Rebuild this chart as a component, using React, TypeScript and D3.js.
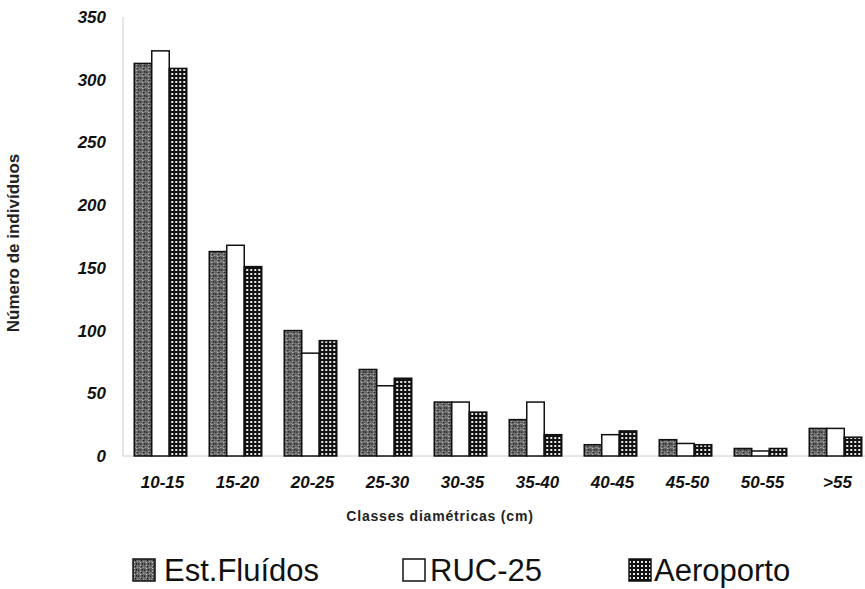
import React from 'react';
import * as d3 from 'd3';

const categories = ['10-15', '15-20', '20-25', '25-30', '30-35', '35-40', '40-45', '45-50', '50-55', '>55'];
const seriesNames = ['Est.Fluídos', 'RUC-25', 'Aeroporto'];
const estFluidos = [313, 163, 100, 69, 43, 29, 9, 13, 6, 22];
const ruc25 = [323, 168, 82, 56, 43, 43, 17, 10, 4, 22];
const aeroporto = [309, 151, 92, 62, 35, 17, 20, 9, 6, 15];
const yTicks = [0, 50, 100, 150, 200, 250, 300, 350];

const W = 865;
const H = 589;
const FONT = '"Liberation Sans", Arial, sans-serif';
const FILLS = ['url(#stipple)', '#ffffff', 'url(#grid)'];

const App: React.FC = () => {
  const seriesValues = [estFluidos, ruc25, aeroporto];

  const x = d3.scaleBand<string>()
    .domain(categories)
    .range([123, 873])
    .paddingInner(0.3)
    .paddingOuter(0.15);

  const xSub = d3.scaleBand<string>()
    .domain(seriesNames)
    .range([0, x.bandwidth()]);

  const y = d3.scaleLinear().domain([0, 350]).range([456, 17]);

  // speckle dots for the stippled pattern
  const speckles: [number, number, string][] = [
    [0, 0, '#222'], [2, 1, '#bbb'], [4, 0, '#333'], [1, 3, '#999'], [3, 2, '#111'],
    [5, 3, '#aaa'], [0, 5, '#444'], [2, 4, '#ccc'], [4, 5, '#222'], [5, 1, '#888'],
  ];

  const legend = [
    { sq: 133, tx: 164 },
    { sq: 403, tx: 430 },
    { sq: 629, tx: 654 },
  ];

  return (
    <div style={{ position: 'absolute', left: 0, top: 0 }}>
      <svg width={W} height={H} style={{ display: 'block', background: '#fff' }}>
        <defs>
          <pattern id="stipple" width={6} height={6} patternUnits="userSpaceOnUse">
            <rect width={6} height={6} fill="#666" />
            {speckles.map(([px, py, c], i) => (
              <rect key={i} x={px} y={py} width={1} height={1} fill={c} />
            ))}
          </pattern>
          <pattern id="grid" width={4} height={4} patternUnits="userSpaceOnUse">
            <rect width={4} height={4} fill="#111" />
            <rect x={1} y={1} width={2} height={2} fill="#e8e8e8" />
          </pattern>
        </defs>

        {/* axes */}
        <line x1={123} x2={123} y1={y(350)} y2={y(0)} stroke="#ccc" strokeWidth={1} />
        <line x1={123} x2={W} y1={y(0)} y2={y(0)} stroke="#ccc" strokeWidth={1} />

        {yTicks.map(t => (
          <text key={t} x={106} y={y(t) + 6} textAnchor="end" fontFamily={FONT}
            fontSize={17} fontWeight="bold" fontStyle="italic" fill="#111">{t}</text>
        ))}

        {/* bars */}
        {categories.map((c, ci) => (
          <g key={c} transform={`translate(${x(c)},0)`}>
            {seriesNames.map((s, si) => {
              const v = seriesValues[si][ci];
              return (
                <rect key={s} x={xSub(s)} y={y(v)} width={xSub.bandwidth()}
                  height={y(0) - y(v)} fill={FILLS[si]} stroke="#111" strokeWidth={1.5} />
              );
            })}
          </g>
        ))}

        {categories.map(c => (
          <text key={c} x={(x(c) ?? 0) + x.bandwidth() / 2 + 2} y={488} textAnchor="middle"
            fontFamily={FONT} fontSize={17} fontWeight="bold" fontStyle="italic" fill="#111">{c}</text>
        ))}

        <text x={440} y={521} textAnchor="middle" fontFamily={FONT} fontSize={14}
          fontWeight="bold" letterSpacing={0.8} fill="#222">Classes diamétricas (cm)</text>

        <text transform="translate(19,243) rotate(-90)" textAnchor="middle" fontFamily={FONT}
          fontSize={17} fontWeight="bold" fill="#222">Número de indivíduos</text>

        {/* legend */}
        {seriesNames.map((name, i) => (
          <g key={name}>
            <rect x={legend[i].sq} y={559} width={22} height={22} fill={FILLS[i]} stroke="#111" strokeWidth={1.5} />
            <text x={legend[i].tx} y={581} fontFamily={FONT} fontSize={31} fill="#111">{name}</text>
          </g>
        ))}
      </svg>
    </div>
  );
};

export default App;
